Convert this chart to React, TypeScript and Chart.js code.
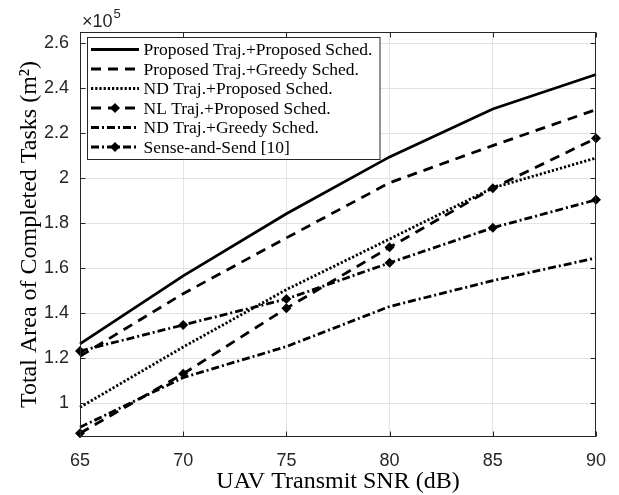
import React, { useEffect, useRef } from "react";
import { Chart, registerables } from "chart.js";

Chart.register(...registerables);

// ---- data (y values in units of 10^5 m^2) ----
const snrDb = [65, 70, 75, 80, 85, 90];
const propTrajPropSched = [1.264, 1.566, 1.842, 2.095, 2.308, 2.461];
const propTrajGreedySched = [1.209, 1.487, 1.735, 1.98, 2.145, 2.305];
const ndTrajPropSched = [0.982, 1.25, 1.505, 1.73, 1.957, 2.09];
const nlTrajPropSched = [0.867, 1.131, 1.422, 1.693, 1.956, 2.178];
const ndTrajGreedySched = [0.893, 1.114, 1.252, 1.43, 1.545, 1.646];
const senseAndSend = [1.232, 1.348, 1.463, 1.624, 1.78, 1.904];

const seriesLabels = [
  "Proposed Traj.+Proposed Sched.",
  "Proposed Traj.+Greedy Sched.",
  "ND Traj.+Proposed Sched.",
  "NL Traj.+Proposed Sched.",
  "ND Traj.+Greedy Sched.",
  "Sense-and-Send [10]",
];
const seriesValues = [
  propTrajPropSched,
  propTrajGreedySched,
  ndTrajPropSched,
  nlTrajPropSched,
  ndTrajGreedySched,
  senseAndSend,
];

const xTicks = [65, 70, 75, 80, 85, 90];
const yTicks = [1, 1.2, 1.4, 1.6, 1.8, 2, 2.2, 2.4, 2.6];
const xTitle = "UAV Transmit SNR (dB)";
const yTitle = "Total Area of Completed Tasks (m\u00B2)";

// ---- styles ----
const DASH = [10, 7];
const DOT = [2.2, 2];
const DASHDOT = [8, 3, 2, 3];
const seriesDash = [[], DASH, DOT, DASH, DASHDOT, DASHDOT];
const seriesMarker = [false, false, false, true, false, true];
const LINE_W = 2.8;
const MARKER_R = 5;
const AXIS_COLOR = "#262626";
const GRID_COLOR = "#e3e3e3";
const SANS = "'Liberation Sans', Arial, sans-serif";
const SERIF = "'Liberation Serif', 'Times New Roman', serif";

function diamond(ctx: CanvasRenderingContext2D, x: number, y: number, r: number) {
  ctx.save();
  ctx.setLineDash([]);
  ctx.beginPath();
  ctx.moveTo(x, y - r);
  ctx.lineTo(x + r, y);
  ctx.lineTo(x, y + r);
  ctx.lineTo(x - r, y);
  ctx.closePath();
  ctx.fillStyle = "#000";
  ctx.fill();
  ctx.restore();
}

const framePlugin = {
  id: "matlabFrame",
  afterDraw(chart: any) {
    const { ctx, chartArea: a, scales } = chart;
    const xs = scales.x;
    const ys = scales.y;
    ctx.save();
    ctx.setLineDash([]);
    ctx.strokeStyle = AXIS_COLOR;
    ctx.lineWidth = 1;
    const L = Math.round(a.left) + 0.5;
    const R = Math.round(a.right) - 0.5;
    const T = Math.round(a.top) + 0.5;
    const B = Math.round(a.bottom) - 0.5;
    ctx.strokeRect(L, T, R - L, B - T);
    const tl = 5;
    ctx.beginPath();
    yTicks.forEach((v) => {
      const py = Math.round(ys.getPixelForValue(v)) + 0.5;
      ctx.moveTo(L, py);
      ctx.lineTo(L + tl, py);
      ctx.moveTo(R, py);
      ctx.lineTo(R - tl, py);
    });
    xTicks.forEach((v) => {
      const px = Math.round(xs.getPixelForValue(v)) + 0.5;
      ctx.moveTo(px, B);
      ctx.lineTo(px, B - tl);
      ctx.moveTo(px, T);
      ctx.lineTo(px, T + tl);
    });
    ctx.stroke();

    // exponent label
    ctx.fillStyle = AXIS_COLOR;
    ctx.textBaseline = "alphabetic";
    ctx.textAlign = "left";
    ctx.font = `18px ${SANS}`;
    const base = "\u00D710";
    ctx.fillText(base, a.left + 2, a.top - 5);
    const w = ctx.measureText(base).width;
    ctx.font = `13px ${SANS}`;
    ctx.fillText("5", a.left + 2 + w + 1, a.top - 14);

    // legend
    const bx = Math.round(a.left) + 7.5;
    const by = Math.round(a.top) + 5.5;
    const bw = 292.5;
    const rowH = 19.5;
    const bh = rowH * seriesLabels.length + 5;
    ctx.fillStyle = "#fff";
    ctx.fillRect(bx, by, bw, bh);
    ctx.strokeStyle = AXIS_COLOR;
    ctx.lineWidth = 1;
    ctx.strokeRect(bx, by, bw, bh);
    ctx.font = `17.5px ${SERIF}`;
    ctx.textBaseline = "middle";
    chart.data.datasets.forEach((ds: any, i: number) => {
      const yy = by + 12 + i * rowH;
      const x0 = bx + 3.5;
      const x1 = x0 + 48;
      ctx.save();
      ctx.strokeStyle = "#000";
      ctx.lineWidth = LINE_W;
      ctx.setLineDash(ds.borderDash || []);
      ctx.beginPath();
      ctx.moveTo(x0, yy);
      ctx.lineTo(x1, yy);
      ctx.stroke();
      ctx.restore();
      if (ds.pointRadius > 0) diamond(ctx, (x0 + x1) / 2, yy, MARKER_R);
      ctx.fillStyle = "#000";
      ctx.fillText(ds.label, x1 + 4.5, yy + 1);
    });
    ctx.restore();
  },
};

export default function App() {
  const ref = useRef<HTMLCanvasElement>(null);
  useEffect(() => {
    document.body.style.margin = "0";
    const canvas = ref.current!;
    const datasets = seriesLabels.map((label, i) => ({
      label,
      data: snrDb.map((x, j) => ({ x, y: seriesValues[i][j] })),
      borderColor: "#000",
      backgroundColor: "#000",
      borderWidth: LINE_W,
      borderDash: seriesDash[i],
      borderCapStyle: "butt" as const,
      pointRadius: seriesMarker[i] ? MARKER_R : 0,
      pointStyle: "rectRot" as const,
      pointBackgroundColor: "#000",
      pointBorderColor: "#000",
      pointBorderWidth: 0,
      tension: 0,
      clip: false as const,
    }));
    const chart = new Chart(canvas, {
      type: "line",
      data: { datasets },
      plugins: [framePlugin],
      options: {
        animation: false,
        responsive: false,
        devicePixelRatio: 1,
        events: [],
        layout: { padding: { top: 32, right: 19, bottom: 0, left: 0 } },
        plugins: { legend: { display: false }, tooltip: { enabled: false } },
        scales: {
          x: {
            type: "linear",
            min: 65,
            max: 90,
            afterBuildTicks: (s: any) => {
              s.ticks = xTicks.map((v) => ({ value: v }));
            },
            afterFit: (s: any) => {
              s.height = 58;
            },
            grid: { color: GRID_COLOR, drawTicks: false, lineWidth: 1 },
            border: { display: false },
            ticks: {
              padding: 13,
              color: AXIS_COLOR,
              font: { family: SANS, size: 18 },
              maxRotation: 0,
              callback: (v: any) => String(v),
            },
            title: {
              display: true,
              text: xTitle,
              color: "#000",
              font: { family: SERIF, size: 24, lineHeight: 1 },
              padding: { top: 0, bottom: 1 },
            },
          },
          y: {
            type: "linear",
            min: 0.85,
            max: 2.65,
            afterBuildTicks: (s: any) => {
              s.ticks = yTicks.map((v) => ({ value: v }));
            },
            afterFit: (s: any) => {
              s.width = 80;
            },
            grid: { color: GRID_COLOR, drawTicks: false, lineWidth: 1 },
            border: { display: false },
            ticks: {
              padding: 11,
              color: AXIS_COLOR,
              font: { family: SANS, size: 18 },
              callback: (v: any) => String(v),
            },
            title: {
              display: true,
              text: yTitle,
              color: "#000",
              font: { family: SERIF, size: 24, lineHeight: 1 },
              padding: { top: 18, bottom: 0 },
            },
          },
        },
      },
    });
    return () => chart.destroy();
  }, []);
  return (
    <canvas
      ref={ref}
      width={619}
      height={495}
      style={{ display: "block", width: "619px", height: "495px" }}
    />
  );
}
